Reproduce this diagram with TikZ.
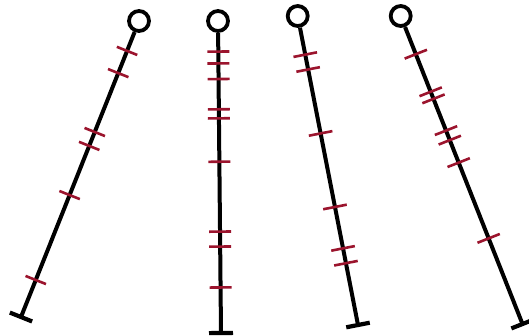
\documentclass[tikz,border=0pt]{standalone}
\usetikzlibrary{calc}
\definecolor{tickred}{RGB}{155,20,45}
\begin{document}
\begin{tikzpicture}[x=1pt,y=-1pt,
  pole/.style={line width=4pt, black},
  ring/.style={circle, draw=black, line width=3.8pt, minimum size=20pt, inner sep=0pt, fill=white},
  tickmark/.style={line width=2.6pt, tickred},
  foot/.style={line width=4.2pt, black}]
\useasboundingbox (0,0) rectangle (529,335);
% tops
\node[ring] (c1) at (139,21) {};
\node[ring] (c2) at (218,21) {};
\node[ring] (c3) at (297.7,16) {};
\node[ring] (c4) at (400.7,16) {};
% bottoms
\coordinate (b1) at (21,317);
\coordinate (b2) at (221,333);
\coordinate (b3) at (358,325);
\coordinate (b4) at (522.5,324);
% poles
\foreach \i in {1,2,3,4} {
  \draw[pole] (c\i) -- (b\i);
  \draw[foot] ($(b\i)!12pt!90:(c\i)$) -- ($(b\i)!12pt!-90:(c\i)$);
}
% ticks
\foreach \t in {0.101,0.176,0.375,0.422,0.588,0.875}
  \draw[tickmark] ($(c1)!\t!(b1)!11pt!90:(b1)$) -- ($(c1)!\t!(b1)!11pt!-90:(b1)$);
\foreach \t in {0.098,0.136,0.186,0.283,0.312,0.451,0.675,0.723,0.854}
  \draw[tickmark] ($(c2)!\t!(b2)!11pt!90:(b2)$) -- ($(c2)!\t!(b2)!11pt!-90:(b2)$);
\foreach \t in {0.125,0.173,0.380,0.618,0.752,0.800}
  \draw[tickmark] ($(c3)!\t!(b3)!12pt!90:(b3)$) -- ($(c3)!\t!(b3)!12pt!-90:(b3)$);
\foreach \t in {0.124,0.246,0.269,0.372,0.403,0.476,0.722}
  \draw[tickmark] ($(c4)!\t!(b4)!12pt!90:(b4)$) -- ($(c4)!\t!(b4)!12pt!-90:(b4)$);
\end{tikzpicture}
\end{document}
